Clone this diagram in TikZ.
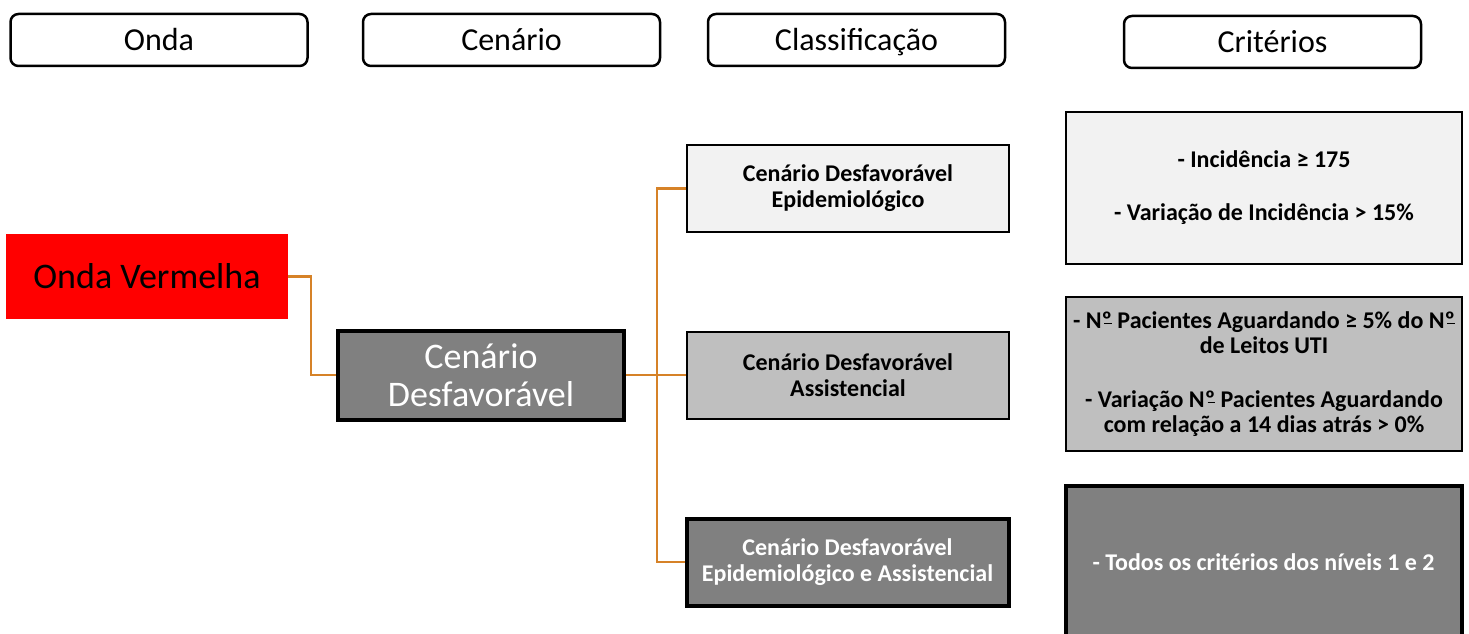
\documentclass[tikz,border=0pt]{standalone}
\usepackage{fontspec}
\setmainfont{Carlito}
\definecolor{conn}{RGB}{214,130,40}
\definecolor{lightg}{RGB}{242,242,242}
\definecolor{midg}{RGB}{191,191,191}
\definecolor{darkg}{RGB}{128,128,128}
\definecolor{redbox}{RGB}{255,0,0}
\newcommand\myordm{º\llap{\rule[0.17em]{0.3em}{0.06em}\kern0.02em}}
\begin{document}
\begin{tikzpicture}[x=1pt,y=-1pt,
  hdr/.style={draw=black,line width=2.5pt,rounded corners=8pt,fill=white,minimum width=297pt,minimum height=52pt,inner sep=0pt,text height=21pt,text depth=0pt,font=\fontsize{32}{36}\selectfont},
  cls/.style={draw=black,line width=2pt,minimum width=322pt,minimum height=87pt,inner sep=0pt,align=center,font=\bfseries\fontsize{24}{26}\selectfont},
  crit/.style={draw=black,line width=2pt,minimum width=396pt,minimum height=152pt,inner sep=0pt,align=center,font=\bfseries\fontsize{24}{25}\selectfont},
  conline/.style={draw=conn,line width=2.5pt}]
\clip (0,0) rectangle (1469,634);
\fill[white] (0,0) rectangle (1469,634);
\node[hdr] (hOnda) at (159,40) {Onda};
\node[hdr] (hCen) at (511.5,40) {Cenário};
\node[hdr] (hCla) at (856.5,40) {Classificação};
\node[hdr] (hCri) at (1272.5,42) {Critérios};
\node[fill=redbox,minimum width=282pt,minimum height=85pt,inner sep=0pt,font=\fontsize{36}{40}\selectfont] (onda) at (147,276.5) {Onda Vermelha};
\node[fill=darkg,draw=black,line width=4pt,minimum width=286pt,minimum height=89pt,inner sep=0pt,align=center,text=white,font=\fontsize{36}{38}\selectfont] (cen) at (481,375) {Cenário\\Desfavorável};
\node[cls,fill=lightg] (c1) at (848,188.5) {Cenário Desfavorável\\Epidemiológico};
\node[cls,fill=midg] (c2) at (848,375) {Cenário Desfavorável\\Assistencial};
\node[cls,fill=darkg,line width=4pt,text=white] (c3) at (847.5,562) {Cenário Desfavorável\\Epidemiológico e Assistencial};
\node[crit,fill=lightg] (k1) at (1264,188) {- Incidência ≥ 175\\[28pt]- Variação de Incidência > 15\%};
\node[crit,fill=midg,minimum height=154pt] (k2) at (1264,374) {- N\myordm{} Pacientes Aguardando ≥ 5\% do N\myordm\\de Leitos UTI\\[29pt]- Variação N\myordm{} Pacientes Aguardando\\com relação a 14 dias atrás > 0\%};
\node[crit,fill=darkg,line width=4pt,text=white] (k3) at (1263.5,562) {- Todos os critérios dos níveis 1 e 2};
\draw[conline] (onda.east) -- ++(23,0) |- (cen.west);
\draw[conline] (cen.east) -- (c2.west);
\draw[conline] (c1.west) -- ++(-29,0) |- (c3.west);
\end{tikzpicture}
\end{document}
